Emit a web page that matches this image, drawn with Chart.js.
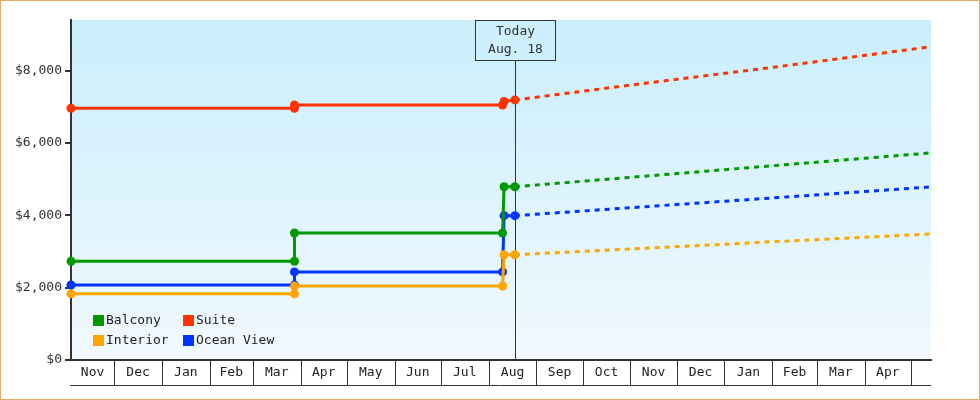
<!DOCTYPE html>
<html>
<head>
<meta charset="utf-8">
<script src="https://cdn.jsdelivr.net/npm/chart.js@4.4.0/dist/chart.umd.min.js"></script>
<style>
  body { margin: 0; background: #fff; }
  .wrap { width: 980px; height: 400px; box-sizing: border-box; border: 1px solid #e8ac6c; }
  canvas { display: block; }
</style>
</head>
<body>
<div class="wrap"><canvas id="chart" width="978" height="398"></canvas></div>
<script>
// date range of the x axis and the "today" marker
const startDate = '2022-11-03';
const endDate = '2024-05-14';
const todayDate = '2023-08-18';
const todayText = ['Today', 'Aug. 18'];
const monthNames = ['Jan', 'Feb', 'Mar', 'Apr', 'May', 'Jun', 'Jul', 'Aug', 'Sep', 'Oct', 'Nov', 'Dec'];
const yTicks = [0, 2000, 4000, 6000, 8000];

// price history (solid lines)
const priceDates = ['2022-11-03', '2023-03-28', '2023-03-28', '2023-08-10', '2023-08-11', '2023-08-18'];
const balcony = [2730, 2730, 3510, 3510, 4790, 4790];
const suite = [6960, 6960, 7050, 7050, 7150, 7190];
const interior = [1830, 1830, 2045, 2045, 2910, 2910];
const oceanView = [2075, 2075, 2435, 2435, 3990, 3990];

// forecast (dotted lines)
const forecastDates = ['2023-08-18', '2023-11-01', '2024-02-01', '2024-05-14'];
const balconyForecast = [4790, 5050, 5370, 5726];
const suiteForecast = [7190, 7600, 8090, 8660];
const interiorForecast = [2910, 3070, 3270, 3483];
const oceanViewForecast = [3990, 4210, 4480, 4785];

const dayOf = s => (Date.parse(s) - Date.parse(startDate)) / 86400000;
const pts = (dates, vals) => dates.map((d, i) => ({ x: dayOf(d), y: vals[i] }));

const series = [
  { label: 'Balcony', color: '#009900', hist: balcony, fc: balconyForecast },
  { label: 'Suite', color: '#ff3300', hist: suite, fc: suiteForecast },
  { label: 'Interior', color: '#ffa500', hist: interior, fc: interiorForecast },
  { label: 'Ocean View', color: '#0033ff', hist: oceanView, fc: oceanViewForecast }
];

const datasets = [];
series.forEach(s => {
  datasets.push({
    label: s.label, data: pts(priceDates, s.hist),
    borderColor: s.color, backgroundColor: s.color,
    borderWidth: 3, pointRadius: 4.5, pointBorderWidth: 0, clip: false
  });
  datasets.push({
    label: s.label + ' forecast', data: pts(forecastDates, s.fc), forecast: true,
    borderColor: s.color, borderWidth: 3, borderDash: [5, 5], pointRadius: 0, clip: false
  });
});

const FONT = '13px "DejaVu Sans Mono", monospace';
const DARK = '#333333';

const decor = {
  id: 'decor',
  beforeDraw(chart) {
    const { ctx, chartArea: a } = chart;
    const g = ctx.createLinearGradient(0, a.top, 0, a.bottom);
    g.addColorStop(0, '#c9eefc');
    g.addColorStop(1, '#f1f9fe');
    ctx.fillStyle = g;
    ctx.fillRect(a.left, a.top, a.right - a.left, a.bottom - a.top);
  },
  beforeDatasetsDraw(chart) {
    const { ctx, chartArea: a, scales } = chart;
    const tx = Math.round(scales.x.getPixelForValue(dayOf(todayDate))) + 0.5;
    ctx.save();
    ctx.strokeStyle = DARK;
    ctx.lineWidth = 1;
    ctx.beginPath();
    ctx.moveTo(tx, a.top + 41);
    ctx.lineTo(tx, a.bottom);
    ctx.stroke();
    ctx.fillStyle = '#cdf0fc';
    ctx.fillRect(tx - 40, a.top + 0.5, 80, 40);
    ctx.strokeRect(tx - 40, a.top + 0.5, 80, 40);
    ctx.fillStyle = DARK;
    ctx.font = FONT;
    ctx.textAlign = 'center';
    ctx.textBaseline = 'middle';
    ctx.fillText(todayText[0], tx, a.top + 12);
    ctx.fillText(todayText[1], tx, a.top + 30);
    ctx.restore();
  },
  afterDraw(chart) {
    const { ctx, chartArea: a, scales } = chart;
    const x = scales.x;
    ctx.save();
    // month boxes under the plot
    const s = new Date(startDate), e = new Date(endDate);
    const edges = [dayOf(startDate)];
    const names = [];
    let d = new Date(Date.UTC(s.getUTCFullYear(), s.getUTCMonth(), 1));
    names.push(monthNames[d.getUTCMonth()]);
    while (true) {
      d = new Date(Date.UTC(d.getUTCFullYear(), d.getUTCMonth() + 1, 1));
      if (d > e) break;
      edges.push((d - s) / 86400000);
      names.push(monthNames[d.getUTCMonth()]);
    }
    edges.push(dayOf(endDate));
    const bottom = a.bottom + 25;
    ctx.strokeStyle = DARK;
    ctx.lineWidth = 1;
    ctx.beginPath();
    ctx.moveTo(a.left - 1, bottom + 0.5);
    ctx.lineTo(a.right, bottom + 0.5);
    for (let i = 1; i < edges.length - 1; i++) {
      const px = Math.round(x.getPixelForValue(edges[i])) + 0.5;
      ctx.moveTo(px, a.bottom);
      ctx.lineTo(px, bottom);
    }
    ctx.stroke();
    ctx.fillStyle = '#222';
    ctx.font = FONT;
    ctx.textAlign = 'center';
    ctx.textBaseline = 'middle';
    for (let i = 0; i < names.length; i++) {
      const l = x.getPixelForValue(edges[i]), r = x.getPixelForValue(edges[i + 1]);
      if (r - l > 30) ctx.fillText(names[i], (l + r) / 2, a.bottom + 13);
    }
    // legend inside the plot, two columns
    ctx.textAlign = 'left';
    series.forEach((sr, i) => {
      const lx = a.left + 22 + (i % 2) * 90;
      const ly = a.bottom - 45 + Math.floor(i / 2) * 20;
      ctx.fillStyle = sr.color;
      ctx.fillRect(lx, ly, 11, 11);
      ctx.fillStyle = '#222';
      ctx.fillText(sr.label, lx + 13, ly + 6);
    });
    ctx.restore();
  }
};

new Chart(document.getElementById('chart'), {
  type: 'line',
  data: { datasets },
  options: {
    responsive: false,
    animation: false,
    events: [],
    layout: { padding: { top: 19, right: 48, left: 0, bottom: 0 } },
    plugins: { legend: { display: false }, tooltip: { enabled: false } },
    elements: { line: { tension: 0 } },
    scales: {
      x: {
        type: 'linear',
        min: dayOf(startDate),
        max: dayOf(endDate),
        ticks: { display: false },
        grid: { display: false },
        border: { display: true, color: DARK, width: 2 },
        afterFit(scale) { scale.height = 39; }
      },
      y: {
        min: 0,
        max: 9400,
        afterBuildTicks(scale) { scale.ticks = yTicks.map(v => ({ value: v })); },
        ticks: {
          color: '#333',
          font: { family: '"DejaVu Sans Mono", monospace', size: 13 },
          padding: 3,
          callback: v => '$' + v.toLocaleString('en-US')
        },
        grid: { drawOnChartArea: false, tickLength: 6, color: DARK, lineWidth: 2 },
        border: { display: true, color: DARK, width: 2 },
        afterFit(scale) { scale.width = 70; }
      }
    }
  },
  plugins: [decor]
});
</script>
</body>
</html>
